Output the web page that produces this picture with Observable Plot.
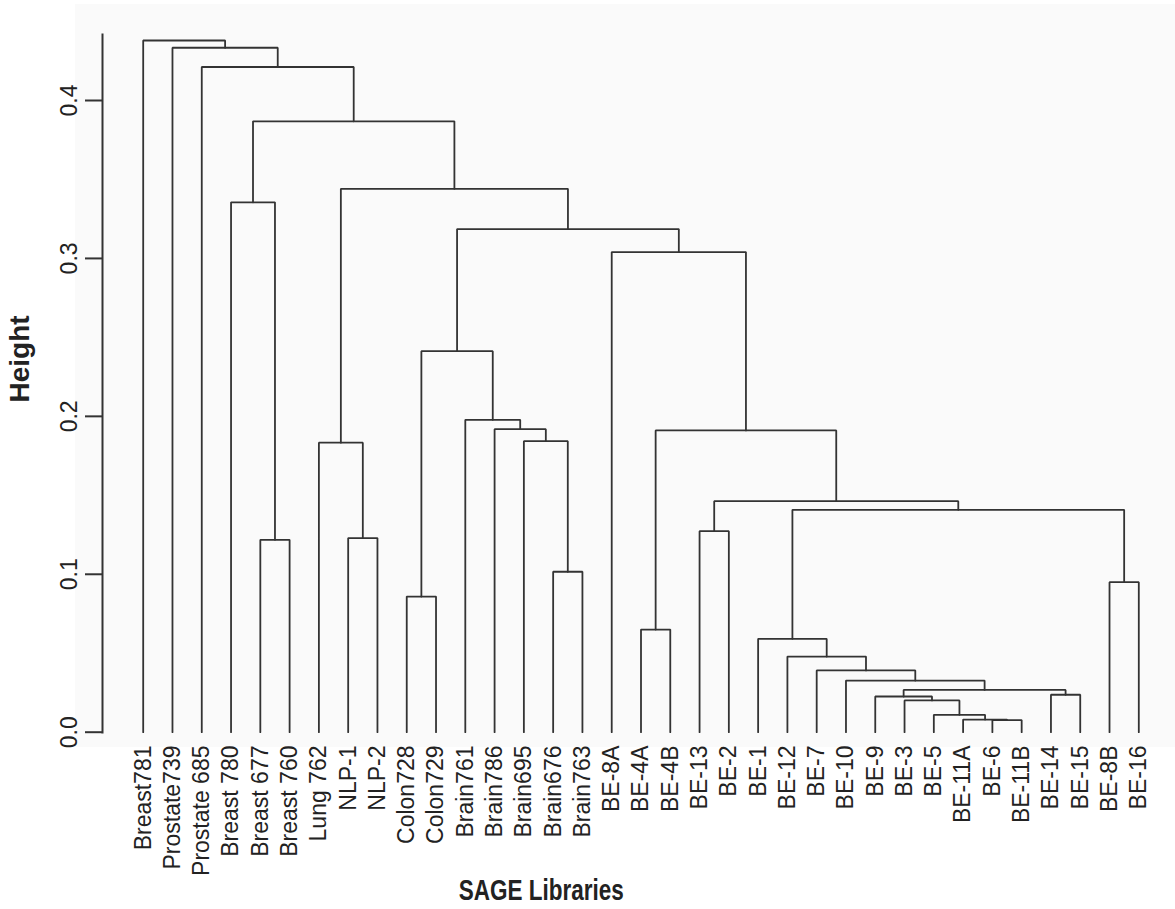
<!DOCTYPE html>
<html>
<head>
<meta charset="utf-8">
<script src="https://cdn.jsdelivr.net/npm/d3@7"></script>
<script src="https://cdn.jsdelivr.net/npm/@observablehq/plot@0.6"></script>
<style>
  html, body { margin: 0; padding: 0; background: #ffffff; }
  #wrap { position: relative; width: 1175px; height: 909px; }
  #panel { position: absolute; left: 75px; top: 4px; width: 1100px; height: 743px; background: #fafafa; }
  #chart { position: absolute; left: 0; top: 0; }
</style>
</head>
<body>
<div id="wrap"><div id="panel"></div><div id="chart"></div></div>
<script>
// ---- data ----
const leaves = ["Breast781","Prostate739","Prostate 685","Breast 780","Breast 677","Breast 760","Lung 762","NLP-1","NLP-2","Colon728","Colon729","Brain761","Brain786","Brain695","Brain676","Brain763","BE-8A","BE-4A","BE-4B","BE-13","BE-2","BE-1","BE-12","BE-7","BE-10","BE-9","BE-3","BE-5","BE-11A","BE-6","BE-11B","BE-14","BE-15","BE-8B","BE-16"];

// merge steps: child A, child B (leaf name or "m<k>" = k-th merge, 1-based), height
const mergeA = ["BE-6","BE-11A","BE-5","BE-3","BE-9","BE-14","m5","BE-10","BE-7","BE-12","BE-1","BE-8B","m11","BE-13","m14","BE-4A","m16","BE-8A","Brain676","Brain695","Brain786","Brain761","Colon728","m23","m24","NLP-1","Lung 762","m27","Breast 677","Breast 780","m30","Prostate 685","Prostate739","Breast781"];
const mergeB = ["BE-11B","m1","m2","m3","m4","BE-15","m6","m7","m8","m9","m10","BE-16","m12","BE-2","m13","BE-4B","m15","m17","Brain763","m19","m20","m21","Colon729","m22","m18","NLP-2","m26","m25","Breast 760","m29","m28","m31","m32","m33"];
const mergeHeight = [0.0077,0.0080,0.0110,0.0201,0.0226,0.0237,0.0268,0.0327,0.0391,0.0479,0.0591,0.0950,0.1408,0.1273,0.1463,0.0650,0.1911,0.3040,0.1016,0.1843,0.1919,0.1978,0.0859,0.2413,0.3186,0.1229,0.1833,0.3441,0.1218,0.3355,0.3868,0.4212,0.4334,0.4380];

const yTicks = [0, 0.1, 0.2, 0.3, 0.4];
const xTitle = "SAGE Libraries";
const yTitle = "Height";

// ---- build dendrogram paths ----
const leafPos = new Map(leaves.map((d, i) => [d, i + 1]));
const nodePos = [];
function pos(ref) {
  if (ref.startsWith("m") && /^m\d+$/.test(ref)) return nodePos[+ref.slice(1) - 1];
  return {x: leafPos.get(ref), h: 0};
}
const segs = [];
mergeA.forEach((a, i) => {
  const A = pos(a), B = pos(mergeB[i]), h = mergeHeight[i];
  nodePos.push({x: (A.x + B.x) / 2, h});
  segs.push({id: i, x: A.x, y: A.h}, {id: i, x: A.x, y: h}, {id: i, x: B.x, y: h}, {id: i, x: B.x, y: B.h});
});

const font = "Liberation Sans, Arial, Helvetica, sans-serif";
const ink = "#333333";
const W = 1175, H = 909, mL = 102, mT = 34, mB = 177, mR = 0;

const chart = Plot.plot({
  width: W, height: H,
  marginLeft: mL, marginTop: mT, marginBottom: mB, marginRight: mR,
  style: {background: "transparent", fontFamily: font, overflow: "visible"},
  x: {type: "linear", domain: [1, leaves.length], range: [142.7, 1138.3], axis: null},
  y: {type: "linear", domain: [0, 0.4], range: [731.7, 100], axis: null},
  marks: [
    Plot.frame({anchor: "left", stroke: ink, strokeWidth: 2}),
    Plot.axisY({ticks: yTicks, anchor: "left", tickSize: 17, tickFormat: () => "", label: null, stroke: ink, strokeWidth: 2}),
    Plot.text(yTicks, {y: d => d, text: d => d.toFixed(1), frameAnchor: "left", dx: -26, rotate: -90, textAnchor: "middle", lineAnchor: "bottom", fontSize: 23, fill: "#222"}),
    Plot.line(segs, {x: "x", y: "y", z: "id", stroke: ink, strokeWidth: 1.8, curve: "linear", strokeLinejoin: "miter"}),
    Plot.text(leaves, {x: (d, i) => i + 1, y: () => 0, text: d => d, rotate: -90, textAnchor: "end", dy: 13.3, fontSize: 23, fill: "#222"}),
    Plot.text([yTitle], {text: d => d, frameAnchor: "left", dx: -82, dy: 19, rotate: -90, fontSize: 28, fontWeight: "bold", fill: "#222"}),
    Plot.text([xTitle], {text: d => d, frameAnchor: "bottom", dx: 540.7 - (mL + W - mR) / 2, dy: 167, lineAnchor: "bottom", fontSize: 29, fontWeight: "bold", fill: "#222", className: "xtitle"})
  ]
});
document.getElementById("chart").appendChild(chart);
// condense the horizontal axis title like the reference
chart.querySelectorAll("text").forEach(t => {
  if (t.textContent === xTitle) {
    t.setAttribute("textLength", "165");
    t.setAttribute("lengthAdjust", "spacingAndGlyphs");
  }
});
</script>
</body>
</html>
